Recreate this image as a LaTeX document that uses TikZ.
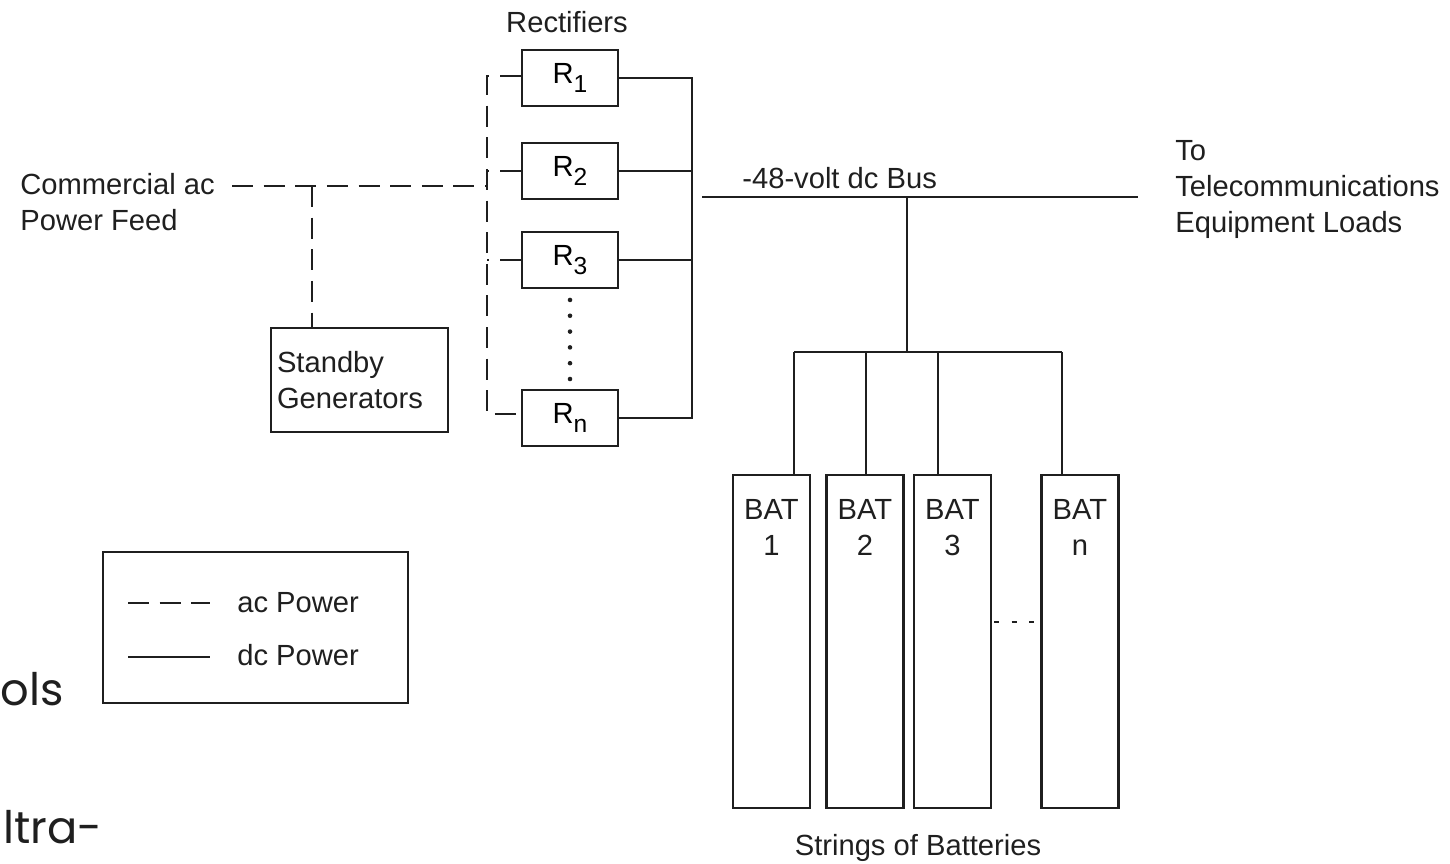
\documentclass[tikz,border=0pt]{standalone}
\usepackage{fontspec}
\setmainfont{Liberation Sans}
\newfontfamily\pagefont{Poppins}
\usetikzlibrary{positioning}

\definecolor{ink}{gray}{0.12}
\newcommand{\rsub}[1]{R\raisebox{-5pt}{\fontsize{14}{14}\selectfont #1}}
\tikzset{
  dcline/.style={line width=1.6pt, ink},
  acline/.style={line width=1.6pt, ink, dash pattern=on 12pt off 6pt},
  unitbox/.style={draw=ink, line width=1.6pt, inner sep=0pt},
  rectbox/.style={unitbox, minimum width=1.92cm, minimum height=1.12cm},
  batbox/.style={unitbox, minimum width=1.54cm, minimum height=6.66cm},
  lbl/.style={inner sep=0pt, align=left, text=ink},
}

\begin{document}
\begin{tikzpicture}[x=0.02cm, y=-0.02cm, font=\fontsize{16.6}{20.5}\selectfont]
    \useasboundingbox (0,0) rectangle (1450,863);

    % rectifiers
    \node[lbl] (rtitle) at (567,22) {Rectifiers};
    \node[rectbox] (r1) at (570,78) {\rsub{1}};
    \node[rectbox] (r2) at (570,171) {\rsub{2}};
    \node[rectbox] (r3) at (570,260) {\rsub{3}};
    \node[rectbox] (rn) at (570,418) {\rsub{n}};
    \draw[dcline, line width=2.6pt, line cap=round, dash pattern=on 0pt off 9pt, shorten <=6pt, shorten >=5pt] (r3.south) -- (rn.north);

    % dc collector
    \coordinate (c1) at (692,78);
    \coordinate (cn) at (692,418);
    \draw[dcline] (r1.east) -- (c1) -- (cn) -- (rn.east);
    \draw[dcline] (r2.east) -- (r2.east -| c1);
    \draw[dcline] (r3.east) -- (r3.east -| c1);

    % dc bus
    \coordinate (busL) at (702,197);
    \coordinate (busR) at (1138,197);
    \draw[dcline] (busL) -- (busR);
    \node[lbl, anchor=base west] (buslbl) at (742,188) {-48-volt dc Bus};
    \node[lbl, anchor=north west] (loads) at (1175,140) {To\\Telecommunications\\Equipment Loads};

    % ac feed and generators
    \node[lbl, anchor=north west] (feed) at (20,173) {Commercial ac\\Power Feed};
    \node[unitbox, minimum width=3.54cm, minimum height=2.08cm, text width=3.3cm, align=left, text=ink] (gen) at (359.5,380) {Standby\\Generators};
    \coordinate (feedIn) at (232,186);
    \coordinate (gtap) at (312,186);
    \coordinate (acTop) at (487,76);
    \coordinate (acMid) at (487,186);
    \coordinate (acBot) at (487,414);
    \draw[acline] (feedIn) -- (acMid);
    \draw[acline] (gtap) -- (gtap |- gen.north);
    \draw[acline] (r1.west |- acTop) -- (acTop) -- (acBot) -- (rn.west |- acBot);
    \draw[acline] (r2.west) -- (r2.west -| acTop);
    \draw[acline] (r3.west) -- (r3.west -| acTop);

    % batteries
    \node[batbox] (bat1) at (771.5,641.5) {};
    \node[batbox] (bat2) at (865,641.5) {};
    \node[batbox] (bat3) at (952.5,641.5) {};
    \node[batbox] (batn) at (1080,641.5) {};
    \node[lbl, align=center, below=0.5cm of bat1.north] (t1) {BAT\\1};
    \node[lbl, align=center, below=0.5cm of bat2.north] (t2) {BAT\\2};
    \node[lbl, align=center, below=0.5cm of bat3.north] (t3) {BAT\\3};
    \node[lbl, align=center, below=0.5cm of batn.north] (tn) {BAT\\n};
    \draw[dcline, dash pattern=on 3pt off 7pt] (994,622) -- (1035,622);
    \node[lbl] (strings) at (918,848) {Strings of Batteries};

    % bus to battery strings
    \coordinate (tap) at (907,197);
    \coordinate (split) at (907,352);
    \coordinate (d1) at (794,352);
    \coordinate (d2) at (866,352);
    \coordinate (d3) at (938,352);
    \coordinate (dn) at (1062,352);
    \draw[dcline] (tap) -- (split);
    \draw[dcline] (d1) -- (dn);
    \foreach \b/\d in {bat1/d1, bat2/d2, bat3/d3, batn/dn}
        \draw[dcline] (\d) -- (\d |- \b.north);

    % legend
    \node[unitbox, minimum width=6.1cm, minimum height=3.02cm] (legend) at (255.5,627.5) {};
    \coordinate (ka) at (128,603);
    \coordinate (kb) at (210,603);
    \coordinate (kc) at (128,657);
    \coordinate (kd) at (210,657);
    \draw[acline] (ka) -- (kb);
    \draw[dcline] (kc) -- (kd);
    \node[lbl, anchor=west] (aclbl) at (237,603) {ac Power};
    \node[lbl, anchor=west] (dclbl) at (237,655) {dc Power};

    % page text cut off at the left
    \node[lbl, anchor=base west, font=\pagefont\fontsize{25.5}{30}\selectfont] (frag1) at (0,705) {ols};
    \node[lbl, anchor=base west, font=\pagefont\fontsize{25.5}{30}\selectfont] (frag2) at (3,843) {ltra-};
\end{tikzpicture}
\end{document}
